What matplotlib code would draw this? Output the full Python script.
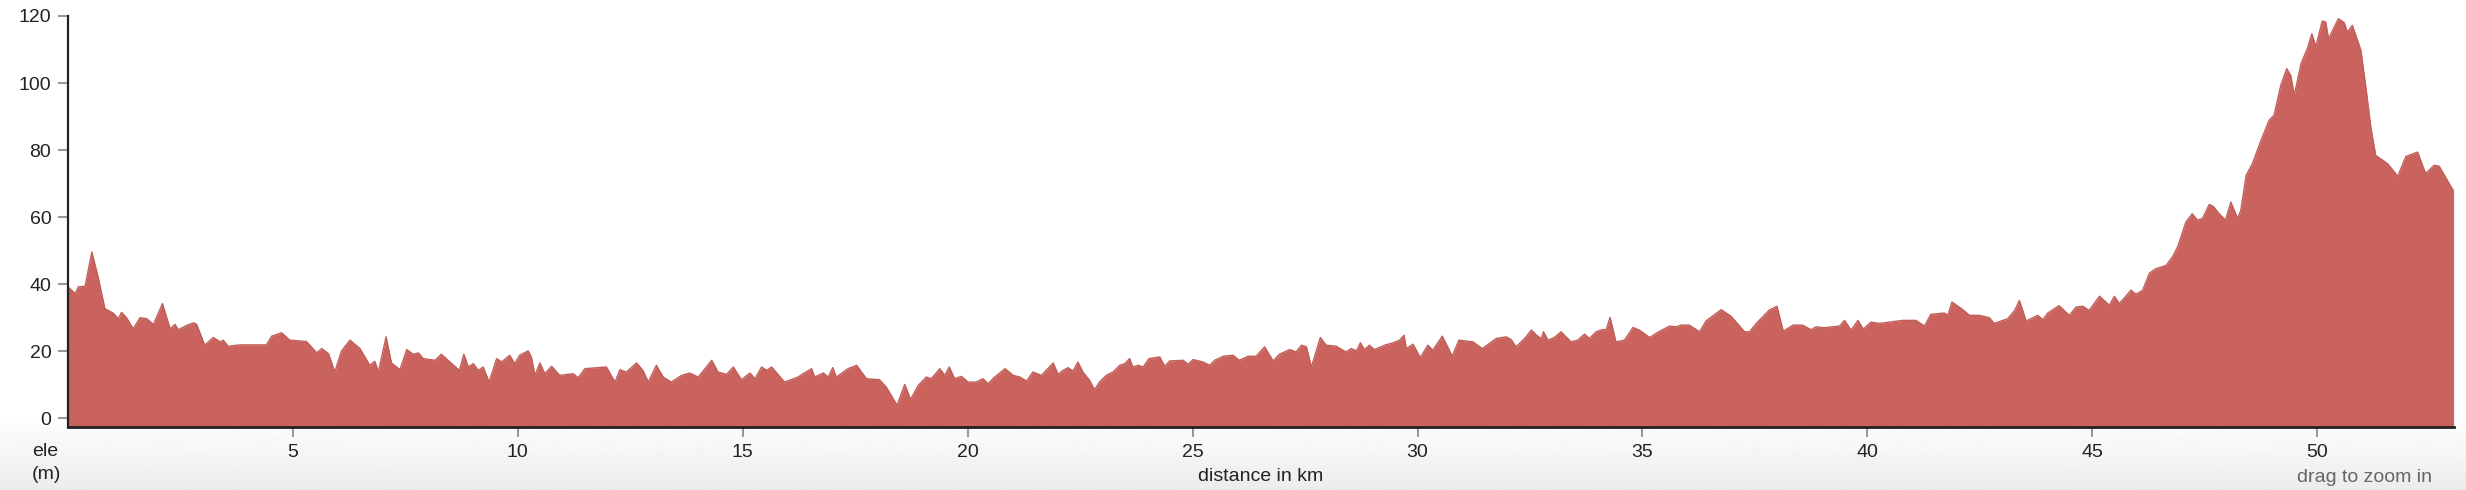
import matplotlib
matplotlib.use("Agg")
import matplotlib.pyplot as plt
import numpy as np

plt.rcParams['font.family'] = ['Liberation Sans', 'DejaVu Sans']

# elevation profile (km, m)
dist_km = [
    0.0, 0.16, 0.23, 0.38, 0.53, 0.67, 0.82, 1.0, 1.12, 1.19,
    1.30, 1.45, 1.60, 1.75, 1.90, 2.10, 2.27, 2.38, 2.45, 2.64,
    2.79, 2.86, 3.04, 3.23, 3.38, 3.45, 3.56, 3.82, 4.41, 4.53,
    4.75, 4.93, 5.30, 5.53, 5.64, 5.79, 5.93, 6.08, 6.27, 6.49,
    6.71, 6.82, 6.90, 7.07, 7.19, 7.38, 7.53, 7.67, 7.79, 7.90,
    8.16, 8.30, 8.53, 8.70,
    8.80, 8.90, 9.01, 9.12, 9.23, 9.36, 9.53, 9.64, 9.82, 9.93,
    10.04, 10.23, 10.30, 10.38, 10.49, 10.60, 10.75, 10.93, 11.23, 11.34,
    11.49, 11.97, 12.16, 12.27, 12.41, 12.64, 12.78, 12.90, 13.08, 13.23,
    13.41, 13.64, 13.82, 14.01, 14.31, 14.45, 14.64, 14.79, 14.97, 15.16,
    15.27, 15.42, 15.53, 15.64, 15.93, 16.23, 16.34, 16.53, 16.60, 16.79,
    16.90, 17.00, 17.08, 17.34, 17.53,
    17.75, 18.04, 18.19, 18.43, 18.60, 18.73, 18.90, 19.08, 19.19, 19.38,
    19.49, 19.59, 19.71, 19.86, 20.01, 20.19, 20.34, 20.45, 20.60, 20.83,
    21.01, 21.16, 21.31, 21.45, 21.64, 21.90, 22.01, 22.12, 22.23, 22.34,
    22.45, 22.56, 22.70, 22.82, 22.93, 23.08, 23.23, 23.38, 23.49, 23.60,
    23.67, 23.79, 23.90, 24.03, 24.27, 24.38, 24.49, 24.79, 24.90, 25.01,
    25.23, 25.38, 25.49, 25.68, 25.90, 26.04, 26.23, 26.41,
    26.60, 26.79, 26.93, 27.16, 27.30, 27.42, 27.53, 27.64, 27.84, 27.97,
    28.19, 28.41, 28.53, 28.64, 28.73, 28.82, 28.93, 29.04, 29.27, 29.45,
    29.60, 29.70, 29.75, 29.90, 30.06, 30.23, 30.34, 30.55, 30.67, 30.77,
    30.92, 31.23, 31.44, 31.75, 31.97, 32.08, 32.19, 32.38, 32.53, 32.67,
    32.75, 32.80, 32.90, 33.04, 33.19, 33.41, 33.56, 33.71, 33.82, 33.97,
    34.12, 34.19, 34.28, 34.41, 34.60, 34.79, 34.93, 35.16, 35.36,
    35.60, 35.75, 35.86, 36.04, 36.27, 36.41, 36.75, 36.97, 37.27, 37.38,
    37.53, 37.82, 37.99, 38.13, 38.35, 38.56, 38.75, 38.86, 39.04, 39.23,
    39.38, 39.49, 39.64, 39.79, 39.91, 40.08, 40.27, 40.49, 40.78, 41.08,
    41.27, 41.41, 41.71, 41.79, 41.88, 42.12, 42.27, 42.49, 42.71, 42.82,
    43.12, 43.27, 43.38, 43.53, 43.79, 43.90, 44.01, 44.26,
    44.49, 44.64, 44.79, 44.93, 45.16, 45.38, 45.49, 45.60, 45.86, 45.97,
    46.12, 46.27, 46.41, 46.64, 46.79, 46.90, 47.08, 47.22, 47.34, 47.45,
    47.60, 47.69, 47.82, 47.96, 48.08, 48.23, 48.30, 48.42, 48.56, 48.75,
    48.93, 49.04, 49.19, 49.32, 49.41, 49.49, 49.64, 49.78, 49.88, 49.97,
    50.11, 50.19, 50.25, 50.47, 50.60, 50.67, 50.78, 50.97, 51.08, 51.19,
    51.30, 51.56, 51.79, 51.97, 52.23, 52.41, 52.60, 52.71, 53.03,
]
ele_m = [
    39.2, 37.2, 39.2, 39.4, 49.6, 42.1, 32.7, 31.4, 29.7, 31.6,
    30.0, 26.7, 30.0, 29.7, 28.0, 34.2, 26.7, 28.0, 26.4, 27.7,
    28.5, 28.0, 21.8, 24.1, 22.8, 23.3, 21.5, 21.9, 21.9, 24.5,
    25.5, 23.3, 22.9, 19.5, 20.8, 19.3, 13.8, 20.1, 23.3, 20.8,
    15.8, 17.0, 13.8, 24.3, 16.5, 14.5, 20.5, 19.1, 19.5, 17.8,
    17.3, 19.1, 16.3, 14.3,
    19.1, 15.3, 16.3, 14.3, 15.3, 10.8, 17.8, 16.8, 18.8, 16.3,
    18.8, 20.1, 18.3, 12.8, 16.5, 13.3, 15.5, 12.8, 13.3, 12.1,
    14.8, 15.3, 10.8, 14.5, 13.8, 16.5, 14.3, 10.8, 15.8, 12.3,
    10.8, 12.8, 13.5, 12.3, 17.3, 13.8, 13.1, 15.3, 11.5, 13.5,
    11.8, 15.3, 14.3, 15.3, 10.8, 12.3, 13.3, 14.8, 12.3, 13.5,
    12.3, 15.1, 12.3, 14.8, 15.8,
    11.8, 11.5, 9.3, 3.9, 10.1, 5.6, 9.8, 12.3, 11.8, 14.8,
    12.8, 15.3, 11.8, 12.5, 10.8, 10.8, 11.8, 10.3, 12.3, 14.8,
    12.8, 12.3, 11.1, 13.8, 12.8, 16.5, 13.1, 14.3, 15.1, 14.1,
    16.8, 13.8, 11.5, 8.5, 10.8, 12.8, 13.8, 15.8, 16.3, 17.8,
    15.3, 15.8, 15.3, 17.8, 18.3, 15.5, 17.1, 17.3, 16.1, 17.5,
    16.8, 15.8, 17.3, 18.5, 18.8, 17.3, 18.5, 18.5,
    21.3, 17.1, 19.1, 20.5, 19.8, 21.8, 21.3, 15.3, 24.1, 21.8,
    21.5, 19.8, 20.8, 20.1, 22.5, 20.5, 21.8, 20.5, 21.8, 22.5,
    23.3, 24.8, 20.8, 22.1, 18.1, 21.8, 20.3, 24.5, 21.3, 18.5,
    23.3, 22.8, 20.8, 23.8, 24.3, 23.5, 21.3, 23.8, 26.3, 24.5,
    23.8, 25.8, 23.3, 24.1, 25.8, 22.8, 23.3, 25.1, 23.8, 25.8,
    26.5, 26.3, 30.1, 22.8, 23.3, 27.1, 26.3, 24.1, 25.8,
    27.5, 27.3, 27.8, 27.8, 25.8, 29.0, 32.4, 30.4, 25.8, 25.8,
    28.3, 32.3, 33.4, 26.0, 27.8, 27.8, 26.4, 27.3, 27.0, 27.3,
    27.5, 29.2, 26.3, 29.2, 26.6, 28.7, 28.3, 28.7, 29.2, 29.2,
    27.5, 31.0, 31.4, 30.7, 34.7, 32.4, 30.7, 30.7, 30.0, 28.3,
    29.7, 32.1, 35.1, 29.0, 30.7, 29.4, 31.4, 33.6,
    30.7, 33.2, 33.4, 32.2, 36.4, 33.7, 36.4, 34.2, 38.2, 37.0,
    38.2, 43.3, 44.6, 45.6, 48.3, 51.3, 58.5, 61.0, 59.1, 59.6,
    63.8, 63.2, 61.0, 59.1, 64.5, 59.6, 62.0, 72.5, 76.0, 82.9,
    88.9, 90.4, 99.3, 104.3, 102.3, 96.3, 105.8, 110.3, 114.7, 110.9,
    118.5, 118.2, 113.2, 119.2, 118.0, 115.2, 117.2, 109.8, 98.8, 86.9,
    78.4, 76.0, 72.2, 78.1, 79.4, 73.0, 75.5, 75.2, 67.8,
]
x_ticks = [5, 10, 15, 20, 25, 30, 35, 40, 45, 50]
y_ticks = [0, 20, 40, 60, 80, 100, 120]

assert len(dist_km) == len(ele_m)

W, H = 2466, 490
fig = plt.figure(figsize=(W / 100, H / 100), dpi=100)

# soft grey gradient behind the lower labels
bg = fig.add_axes([0, 0, 1, 1], zorder=-1)
rows = np.linspace(0, 1, H)
shade = np.where(rows < 0.85, 1.0, 1.0 - (rows - 0.85) / 0.15 * 0.075)
bg.imshow(shade[:, None], aspect='auto', cmap='gray', vmin=0, vmax=1,
          extent=[0, 1, 0, 1])
bg.axis('off')

x0, x1 = 68, 2454
ytop, ybot = 16, 427
ax = fig.add_axes([x0 / W, 1 - ybot / H, (x1 - x0) / W, (ybot - ytop) / H])
ax.set_facecolor('none')

x = np.array(dist_km)
y = np.array(ele_m)
ax.fill_between(x, -5, y, color='#CA635D', linewidth=0)
ax.plot(x, y, color='#C05E59', linewidth=1.0)

ax.set_xlim(0, 53.04)
ax.set_ylim(-2.6, 120)

for s in ['top', 'right']:
    ax.spines[s].set_visible(False)
ax.spines['left'].set_color('#222222')
ax.spines['left'].set_linewidth(1.6)
ax.spines['bottom'].set_color('#222222')
ax.spines['bottom'].set_linewidth(2.0)

ax.set_xticks(x_ticks)
ax.set_yticks(y_ticks)
ax.tick_params(axis='both', direction='out', length=7, width=1.5,
               color='#9a9a9a', labelsize=14, labelcolor='#222222', pad=5)

fig.text((x0 + x1) / 2 / W, 1 - 476 / H, 'distance in km', ha='center',
         va='center', fontsize=14, color='#222222')
fig.text(32 / W, 1 - 451 / H, 'ele', ha='left', va='center',
         fontsize=14, color='#222222')
fig.text(32 / W, 1 - 474 / H, '(m)', ha='left', va='center',
         fontsize=14, color='#222222')
fig.text(2432 / W, 1 - 477 / H, 'drag to zoom in', ha='right', va='center',
         fontsize=14, color='#666666')

fig.savefig('out.png', dpi=100)
